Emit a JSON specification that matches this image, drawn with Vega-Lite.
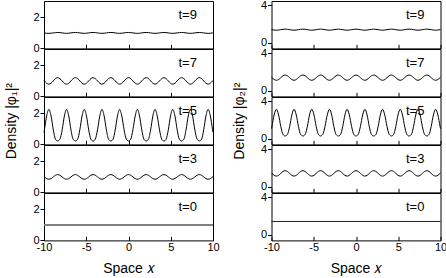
{
"$schema":"https://vega.github.io/schema/vega-lite/v6.json",
"padding":{"left":4,"top":-2,"right":0,"bottom":0},
"config":{
 "view":{"stroke":"#000","strokeWidth":1},
 "axis":{"labelFont":"Liberation Sans","labelFontSize":11,"labelColor":"#000","titleFont":"Liberation Sans","titleFontSize":14,"titleFontWeight":"normal","titleColor":"#000","tickColor":"#000","domain":false,"grid":false,"labelFlush":false},
 "text":{"font":"Liberation Sans"}
},
"datasets":{
"L":[
{"t":9,"lab":"t=9"},{"t":7,"lab":"t=7"},{"t":5,"lab":"t=5"},{"t":3,"lab":"t=3"},{"t":0,"lab":"t=0"},
{"t":0,"x":-10,"y":1},{"t":0,"x":10,"y":1},
{"t":9,"x":-10,"y":1.005},{"t":9,"x":-9.95,"y":1},{"t":9,"x":-9.42,"y":0.97},{"t":9,"x":-8.9,"y":1},{"t":9,"x":-8.38,"y":1.03},{"t":9,"x":-7.85,"y":1},{"t":9,"x":-7.33,"y":0.97},{"t":9,"x":-6.81,"y":1},{"t":9,"x":-6.28,"y":1.03},{"t":9,"x":-5.76,"y":1},{"t":9,"x":-5.24,"y":0.97},{"t":9,"x":-4.71,"y":1},{"t":9,"x":-4.19,"y":1.03},{"t":9,"x":-3.67,"y":1},{"t":9,"x":-3.14,"y":0.97},{"t":9,"x":-2.62,"y":1},{"t":9,"x":-2.09,"y":1.03},{"t":9,"x":-1.57,"y":1},{"t":9,"x":-1.05,"y":0.97},{"t":9,"x":-0.52,"y":1},{"t":9,"x":0,"y":1.03},{"t":9,"x":0.52,"y":1},{"t":9,"x":1.05,"y":0.97},{"t":9,"x":1.57,"y":1},{"t":9,"x":2.09,"y":1.03},{"t":9,"x":2.62,"y":1},{"t":9,"x":3.14,"y":0.97},{"t":9,"x":3.67,"y":1},{"t":9,"x":4.19,"y":1.03},{"t":9,"x":4.71,"y":1},{"t":9,"x":5.24,"y":0.97},{"t":9,"x":5.76,"y":1},{"t":9,"x":6.28,"y":1.03},{"t":9,"x":6.81,"y":1},{"t":9,"x":7.33,"y":0.97},{"t":9,"x":7.85,"y":1},{"t":9,"x":8.38,"y":1.03},{"t":9,"x":8.9,"y":1},{"t":9,"x":9.42,"y":0.97},{"t":9,"x":9.95,"y":1},{"t":9,"x":10,"y":1.005},
{"t":7,"x":-10,"y":1.032},
{"t":7,"x":-9.95,"y":1},{"t":7,"x":-9.69,"y":0.852},{"t":7,"x":-9.42,"y":0.79},{"t":7,"x":-9.16,"y":0.852},{"t":7,"x":-8.9,"y":1},{"t":7,"x":-8.64,"y":1.148},{"t":7,"x":-8.38,"y":1.21},{"t":7,"x":-8.12,"y":1.148},
{"t":7,"x":-7.85,"y":1},{"t":7,"x":-7.59,"y":0.852},{"t":7,"x":-7.33,"y":0.79},{"t":7,"x":-7.07,"y":0.852},{"t":7,"x":-6.81,"y":1},{"t":7,"x":-6.55,"y":1.148},{"t":7,"x":-6.28,"y":1.21},{"t":7,"x":-6.02,"y":1.148},
{"t":7,"x":-5.76,"y":1},{"t":7,"x":-5.5,"y":0.852},{"t":7,"x":-5.24,"y":0.79},{"t":7,"x":-4.97,"y":0.852},{"t":7,"x":-4.71,"y":1},{"t":7,"x":-4.45,"y":1.148},{"t":7,"x":-4.19,"y":1.21},{"t":7,"x":-3.93,"y":1.148},
{"t":7,"x":-3.67,"y":1},{"t":7,"x":-3.4,"y":0.852},{"t":7,"x":-3.14,"y":0.79},{"t":7,"x":-2.88,"y":0.852},{"t":7,"x":-2.62,"y":1},{"t":7,"x":-2.36,"y":1.148},{"t":7,"x":-2.09,"y":1.21},{"t":7,"x":-1.83,"y":1.148},
{"t":7,"x":-1.57,"y":1},{"t":7,"x":-1.31,"y":0.852},{"t":7,"x":-1.05,"y":0.79},{"t":7,"x":-0.79,"y":0.852},{"t":7,"x":-0.52,"y":1},{"t":7,"x":-0.26,"y":1.148},{"t":7,"x":0,"y":1.21},{"t":7,"x":0.26,"y":1.148},
{"t":7,"x":0.52,"y":1},{"t":7,"x":0.79,"y":0.852},{"t":7,"x":1.05,"y":0.79},{"t":7,"x":1.31,"y":0.852},{"t":7,"x":1.57,"y":1},{"t":7,"x":1.83,"y":1.148},{"t":7,"x":2.09,"y":1.21},{"t":7,"x":2.36,"y":1.148},
{"t":7,"x":2.62,"y":1},{"t":7,"x":2.88,"y":0.852},{"t":7,"x":3.14,"y":0.79},{"t":7,"x":3.4,"y":0.852},{"t":7,"x":3.67,"y":1},{"t":7,"x":3.93,"y":1.148},{"t":7,"x":4.19,"y":1.21},{"t":7,"x":4.45,"y":1.148},
{"t":7,"x":4.71,"y":1},{"t":7,"x":4.97,"y":0.852},{"t":7,"x":5.24,"y":0.79},{"t":7,"x":5.5,"y":0.852},{"t":7,"x":5.76,"y":1},{"t":7,"x":6.02,"y":1.148},{"t":7,"x":6.28,"y":1.21},{"t":7,"x":6.55,"y":1.148},
{"t":7,"x":6.81,"y":1},{"t":7,"x":7.07,"y":0.852},{"t":7,"x":7.33,"y":0.79},{"t":7,"x":7.59,"y":0.852},{"t":7,"x":7.85,"y":1},{"t":7,"x":8.12,"y":1.148},{"t":7,"x":8.38,"y":1.21},{"t":7,"x":8.64,"y":1.148},
{"t":7,"x":8.9,"y":1},{"t":7,"x":9.16,"y":0.852},{"t":7,"x":9.42,"y":0.79},{"t":7,"x":9.69,"y":0.852},{"t":7,"x":9.95,"y":1},{"t":7,"x":10,"y":1.032},
{"t":5,"x":-10,"y":0.78},
{"t":5,"x":-9.95,"y":0.941},{"t":5,"x":-9.69,"y":1.829},{"t":5,"x":-9.42,"y":2.26},{"t":5,"x":-9.16,"y":1.829},{"t":5,"x":-8.9,"y":0.941},{"t":5,"x":-8.64,"y":0.334},{"t":5,"x":-8.38,"y":0.22},{"t":5,"x":-8.12,"y":0.334},
{"t":5,"x":-7.85,"y":0.941},{"t":5,"x":-7.59,"y":1.829},{"t":5,"x":-7.33,"y":2.26},{"t":5,"x":-7.07,"y":1.829},{"t":5,"x":-6.81,"y":0.941},{"t":5,"x":-6.55,"y":0.334},{"t":5,"x":-6.28,"y":0.22},{"t":5,"x":-6.02,"y":0.334},
{"t":5,"x":-5.76,"y":0.941},{"t":5,"x":-5.5,"y":1.829},{"t":5,"x":-5.24,"y":2.26},{"t":5,"x":-4.97,"y":1.829},{"t":5,"x":-4.71,"y":0.941},{"t":5,"x":-4.45,"y":0.334},{"t":5,"x":-4.19,"y":0.22},{"t":5,"x":-3.93,"y":0.334},
{"t":5,"x":-3.67,"y":0.941},{"t":5,"x":-3.4,"y":1.829},{"t":5,"x":-3.14,"y":2.26},{"t":5,"x":-2.88,"y":1.829},{"t":5,"x":-2.62,"y":0.941},{"t":5,"x":-2.36,"y":0.334},{"t":5,"x":-2.09,"y":0.22},{"t":5,"x":-1.83,"y":0.334},
{"t":5,"x":-1.57,"y":0.941},{"t":5,"x":-1.31,"y":1.829},{"t":5,"x":-1.05,"y":2.26},{"t":5,"x":-0.79,"y":1.829},{"t":5,"x":-0.52,"y":0.941},{"t":5,"x":-0.26,"y":0.334},{"t":5,"x":0,"y":0.22},{"t":5,"x":0.26,"y":0.334},
{"t":5,"x":0.52,"y":0.941},{"t":5,"x":0.79,"y":1.829},{"t":5,"x":1.05,"y":2.26},{"t":5,"x":1.31,"y":1.829},{"t":5,"x":1.57,"y":0.941},{"t":5,"x":1.83,"y":0.334},{"t":5,"x":2.09,"y":0.22},{"t":5,"x":2.36,"y":0.334},
{"t":5,"x":2.62,"y":0.941},{"t":5,"x":2.88,"y":1.829},{"t":5,"x":3.14,"y":2.26},{"t":5,"x":3.4,"y":1.829},{"t":5,"x":3.67,"y":0.941},{"t":5,"x":3.93,"y":0.334},{"t":5,"x":4.19,"y":0.22},{"t":5,"x":4.45,"y":0.334},
{"t":5,"x":4.71,"y":0.941},{"t":5,"x":4.97,"y":1.829},{"t":5,"x":5.24,"y":2.26},{"t":5,"x":5.5,"y":1.829},{"t":5,"x":5.76,"y":0.941},{"t":5,"x":6.02,"y":0.334},{"t":5,"x":6.28,"y":0.22},{"t":5,"x":6.55,"y":0.334},
{"t":5,"x":6.81,"y":0.941},{"t":5,"x":7.07,"y":1.829},{"t":5,"x":7.33,"y":2.26},{"t":5,"x":7.59,"y":1.829},{"t":5,"x":7.85,"y":0.941},{"t":5,"x":8.12,"y":0.334},{"t":5,"x":8.38,"y":0.22},{"t":5,"x":8.64,"y":0.334},
{"t":5,"x":8.9,"y":0.941},{"t":5,"x":9.16,"y":1.829},{"t":5,"x":9.42,"y":2.26},{"t":5,"x":9.69,"y":1.829},{"t":5,"x":9.95,"y":0.941},{"t":5,"x":10,"y":0.78},
{"t":3,"x":-10,"y":1.023},
{"t":3,"x":-9.95,"y":1},{"t":3,"x":-9.69,"y":0.894},{"t":3,"x":-9.42,"y":0.85},{"t":3,"x":-9.16,"y":0.894},{"t":3,"x":-8.9,"y":1},{"t":3,"x":-8.64,"y":1.106},{"t":3,"x":-8.38,"y":1.15},{"t":3,"x":-8.12,"y":1.106},
{"t":3,"x":-7.85,"y":1},{"t":3,"x":-7.59,"y":0.894},{"t":3,"x":-7.33,"y":0.85},{"t":3,"x":-7.07,"y":0.894},{"t":3,"x":-6.81,"y":1},{"t":3,"x":-6.55,"y":1.106},{"t":3,"x":-6.28,"y":1.15},{"t":3,"x":-6.02,"y":1.106},
{"t":3,"x":-5.76,"y":1},{"t":3,"x":-5.5,"y":0.894},{"t":3,"x":-5.24,"y":0.85},{"t":3,"x":-4.97,"y":0.894},{"t":3,"x":-4.71,"y":1},{"t":3,"x":-4.45,"y":1.106},{"t":3,"x":-4.19,"y":1.15},{"t":3,"x":-3.93,"y":1.106},
{"t":3,"x":-3.67,"y":1},{"t":3,"x":-3.4,"y":0.894},{"t":3,"x":-3.14,"y":0.85},{"t":3,"x":-2.88,"y":0.894},{"t":3,"x":-2.62,"y":1},{"t":3,"x":-2.36,"y":1.106},{"t":3,"x":-2.09,"y":1.15},{"t":3,"x":-1.83,"y":1.106},
{"t":3,"x":-1.57,"y":1},{"t":3,"x":-1.31,"y":0.894},{"t":3,"x":-1.05,"y":0.85},{"t":3,"x":-0.79,"y":0.894},{"t":3,"x":-0.52,"y":1},{"t":3,"x":-0.26,"y":1.106},{"t":3,"x":0,"y":1.15},{"t":3,"x":0.26,"y":1.106},
{"t":3,"x":0.52,"y":1},{"t":3,"x":0.79,"y":0.894},{"t":3,"x":1.05,"y":0.85},{"t":3,"x":1.31,"y":0.894},{"t":3,"x":1.57,"y":1},{"t":3,"x":1.83,"y":1.106},{"t":3,"x":2.09,"y":1.15},{"t":3,"x":2.36,"y":1.106},
{"t":3,"x":2.62,"y":1},{"t":3,"x":2.88,"y":0.894},{"t":3,"x":3.14,"y":0.85},{"t":3,"x":3.4,"y":0.894},{"t":3,"x":3.67,"y":1},{"t":3,"x":3.93,"y":1.106},{"t":3,"x":4.19,"y":1.15},{"t":3,"x":4.45,"y":1.106},
{"t":3,"x":4.71,"y":1},{"t":3,"x":4.97,"y":0.894},{"t":3,"x":5.24,"y":0.85},{"t":3,"x":5.5,"y":0.894},{"t":3,"x":5.76,"y":1},{"t":3,"x":6.02,"y":1.106},{"t":3,"x":6.28,"y":1.15},{"t":3,"x":6.55,"y":1.106},
{"t":3,"x":6.81,"y":1},{"t":3,"x":7.07,"y":0.894},{"t":3,"x":7.33,"y":0.85},{"t":3,"x":7.59,"y":0.894},{"t":3,"x":7.85,"y":1},{"t":3,"x":8.12,"y":1.106},{"t":3,"x":8.38,"y":1.15},{"t":3,"x":8.64,"y":1.106},
{"t":3,"x":8.9,"y":1},{"t":3,"x":9.16,"y":0.894},{"t":3,"x":9.42,"y":0.85},{"t":3,"x":9.69,"y":0.894},{"t":3,"x":9.95,"y":1},{"t":3,"x":10,"y":1.023}
],
"R":[
{"t":9,"lab":"t=9"},{"t":7,"lab":"t=7"},{"t":5,"lab":"t=5"},{"t":3,"lab":"t=3"},{"t":0,"lab":"t=0"},
{"t":0,"x":-10,"y":1.42},{"t":0,"x":10,"y":1.42},
{"t":9,"x":-10,"y":1.409},{"t":9,"x":-9.95,"y":1.4},{"t":9,"x":-9.42,"y":1.34},{"t":9,"x":-8.9,"y":1.4},{"t":9,"x":-8.38,"y":1.46},{"t":9,"x":-7.85,"y":1.4},{"t":9,"x":-7.33,"y":1.34},{"t":9,"x":-6.81,"y":1.4},{"t":9,"x":-6.28,"y":1.46},{"t":9,"x":-5.76,"y":1.4},{"t":9,"x":-5.24,"y":1.34},{"t":9,"x":-4.71,"y":1.4},{"t":9,"x":-4.19,"y":1.46},{"t":9,"x":-3.67,"y":1.4},{"t":9,"x":-3.14,"y":1.34},{"t":9,"x":-2.62,"y":1.4},{"t":9,"x":-2.09,"y":1.46},{"t":9,"x":-1.57,"y":1.4},{"t":9,"x":-1.05,"y":1.34},{"t":9,"x":-0.52,"y":1.4},{"t":9,"x":0,"y":1.46},{"t":9,"x":0.52,"y":1.4},{"t":9,"x":1.05,"y":1.34},{"t":9,"x":1.57,"y":1.4},{"t":9,"x":2.09,"y":1.46},{"t":9,"x":2.62,"y":1.4},{"t":9,"x":3.14,"y":1.34},{"t":9,"x":3.67,"y":1.4},{"t":9,"x":4.19,"y":1.46},{"t":9,"x":4.71,"y":1.4},{"t":9,"x":5.24,"y":1.34},{"t":9,"x":5.76,"y":1.4},{"t":9,"x":6.28,"y":1.46},{"t":9,"x":6.81,"y":1.4},{"t":9,"x":7.33,"y":1.34},{"t":9,"x":7.85,"y":1.4},{"t":9,"x":8.38,"y":1.46},{"t":9,"x":8.9,"y":1.4},{"t":9,"x":9.42,"y":1.34},{"t":9,"x":9.95,"y":1.4},{"t":9,"x":10,"y":1.409},
{"t":7,"x":-10,"y":1.443},
{"t":7,"x":-9.95,"y":1.4},{"t":7,"x":-9.69,"y":1.202},{"t":7,"x":-9.42,"y":1.12},{"t":7,"x":-9.16,"y":1.202},{"t":7,"x":-8.9,"y":1.4},{"t":7,"x":-8.64,"y":1.598},{"t":7,"x":-8.38,"y":1.68},{"t":7,"x":-8.12,"y":1.598},
{"t":7,"x":-7.85,"y":1.4},{"t":7,"x":-7.59,"y":1.202},{"t":7,"x":-7.33,"y":1.12},{"t":7,"x":-7.07,"y":1.202},{"t":7,"x":-6.81,"y":1.4},{"t":7,"x":-6.55,"y":1.598},{"t":7,"x":-6.28,"y":1.68},{"t":7,"x":-6.02,"y":1.598},
{"t":7,"x":-5.76,"y":1.4},{"t":7,"x":-5.5,"y":1.202},{"t":7,"x":-5.24,"y":1.12},{"t":7,"x":-4.97,"y":1.202},{"t":7,"x":-4.71,"y":1.4},{"t":7,"x":-4.45,"y":1.598},{"t":7,"x":-4.19,"y":1.68},{"t":7,"x":-3.93,"y":1.598},
{"t":7,"x":-3.67,"y":1.4},{"t":7,"x":-3.4,"y":1.202},{"t":7,"x":-3.14,"y":1.12},{"t":7,"x":-2.88,"y":1.202},{"t":7,"x":-2.62,"y":1.4},{"t":7,"x":-2.36,"y":1.598},{"t":7,"x":-2.09,"y":1.68},{"t":7,"x":-1.83,"y":1.598},
{"t":7,"x":-1.57,"y":1.4},{"t":7,"x":-1.31,"y":1.202},{"t":7,"x":-1.05,"y":1.12},{"t":7,"x":-0.79,"y":1.202},{"t":7,"x":-0.52,"y":1.4},{"t":7,"x":-0.26,"y":1.598},{"t":7,"x":0,"y":1.68},{"t":7,"x":0.26,"y":1.598},
{"t":7,"x":0.52,"y":1.4},{"t":7,"x":0.79,"y":1.202},{"t":7,"x":1.05,"y":1.12},{"t":7,"x":1.31,"y":1.202},{"t":7,"x":1.57,"y":1.4},{"t":7,"x":1.83,"y":1.598},{"t":7,"x":2.09,"y":1.68},{"t":7,"x":2.36,"y":1.598},
{"t":7,"x":2.62,"y":1.4},{"t":7,"x":2.88,"y":1.202},{"t":7,"x":3.14,"y":1.12},{"t":7,"x":3.4,"y":1.202},{"t":7,"x":3.67,"y":1.4},{"t":7,"x":3.93,"y":1.598},{"t":7,"x":4.19,"y":1.68},{"t":7,"x":4.45,"y":1.598},
{"t":7,"x":4.71,"y":1.4},{"t":7,"x":4.97,"y":1.202},{"t":7,"x":5.24,"y":1.12},{"t":7,"x":5.5,"y":1.202},{"t":7,"x":5.76,"y":1.4},{"t":7,"x":6.02,"y":1.598},{"t":7,"x":6.28,"y":1.68},{"t":7,"x":6.55,"y":1.598},
{"t":7,"x":6.81,"y":1.4},{"t":7,"x":7.07,"y":1.202},{"t":7,"x":7.33,"y":1.12},{"t":7,"x":7.59,"y":1.202},{"t":7,"x":7.85,"y":1.4},{"t":7,"x":8.12,"y":1.598},{"t":7,"x":8.38,"y":1.68},{"t":7,"x":8.64,"y":1.598},
{"t":7,"x":8.9,"y":1.4},{"t":7,"x":9.16,"y":1.202},{"t":7,"x":9.42,"y":1.12},{"t":7,"x":9.69,"y":1.202},{"t":7,"x":9.95,"y":1.4},{"t":7,"x":10,"y":1.443},
{"t":5,"x":-10,"y":1.084},
{"t":5,"x":-9.95,"y":1.308},{"t":5,"x":-9.69,"y":2.548},{"t":5,"x":-9.42,"y":3.15},{"t":5,"x":-9.16,"y":2.548},{"t":5,"x":-8.9,"y":1.308},{"t":5,"x":-8.64,"y":0.46},{"t":5,"x":-8.38,"y":0.3},{"t":5,"x":-8.12,"y":0.46},
{"t":5,"x":-7.85,"y":1.308},{"t":5,"x":-7.59,"y":2.548},{"t":5,"x":-7.33,"y":3.15},{"t":5,"x":-7.07,"y":2.548},{"t":5,"x":-6.81,"y":1.308},{"t":5,"x":-6.55,"y":0.46},{"t":5,"x":-6.28,"y":0.3},{"t":5,"x":-6.02,"y":0.46},
{"t":5,"x":-5.76,"y":1.308},{"t":5,"x":-5.5,"y":2.548},{"t":5,"x":-5.24,"y":3.15},{"t":5,"x":-4.97,"y":2.548},{"t":5,"x":-4.71,"y":1.308},{"t":5,"x":-4.45,"y":0.46},{"t":5,"x":-4.19,"y":0.3},{"t":5,"x":-3.93,"y":0.46},
{"t":5,"x":-3.67,"y":1.308},{"t":5,"x":-3.4,"y":2.548},{"t":5,"x":-3.14,"y":3.15},{"t":5,"x":-2.88,"y":2.548},{"t":5,"x":-2.62,"y":1.308},{"t":5,"x":-2.36,"y":0.46},{"t":5,"x":-2.09,"y":0.3},{"t":5,"x":-1.83,"y":0.46},
{"t":5,"x":-1.57,"y":1.308},{"t":5,"x":-1.31,"y":2.548},{"t":5,"x":-1.05,"y":3.15},{"t":5,"x":-0.79,"y":2.548},{"t":5,"x":-0.52,"y":1.308},{"t":5,"x":-0.26,"y":0.46},{"t":5,"x":0,"y":0.3},{"t":5,"x":0.26,"y":0.46},
{"t":5,"x":0.52,"y":1.308},{"t":5,"x":0.79,"y":2.548},{"t":5,"x":1.05,"y":3.15},{"t":5,"x":1.31,"y":2.548},{"t":5,"x":1.57,"y":1.308},{"t":5,"x":1.83,"y":0.46},{"t":5,"x":2.09,"y":0.3},{"t":5,"x":2.36,"y":0.46},
{"t":5,"x":2.62,"y":1.308},{"t":5,"x":2.88,"y":2.548},{"t":5,"x":3.14,"y":3.15},{"t":5,"x":3.4,"y":2.548},{"t":5,"x":3.67,"y":1.308},{"t":5,"x":3.93,"y":0.46},{"t":5,"x":4.19,"y":0.3},{"t":5,"x":4.45,"y":0.46},
{"t":5,"x":4.71,"y":1.308},{"t":5,"x":4.97,"y":2.548},{"t":5,"x":5.24,"y":3.15},{"t":5,"x":5.5,"y":2.548},{"t":5,"x":5.76,"y":1.308},{"t":5,"x":6.02,"y":0.46},{"t":5,"x":6.28,"y":0.3},{"t":5,"x":6.55,"y":0.46},
{"t":5,"x":6.81,"y":1.308},{"t":5,"x":7.07,"y":2.548},{"t":5,"x":7.33,"y":3.15},{"t":5,"x":7.59,"y":2.548},{"t":5,"x":7.85,"y":1.308},{"t":5,"x":8.12,"y":0.46},{"t":5,"x":8.38,"y":0.3},{"t":5,"x":8.64,"y":0.46},
{"t":5,"x":8.9,"y":1.308},{"t":5,"x":9.16,"y":2.548},{"t":5,"x":9.42,"y":3.15},{"t":5,"x":9.69,"y":2.548},{"t":5,"x":9.95,"y":1.308},{"t":5,"x":10,"y":1.084},
{"t":3,"x":-10,"y":1.475},
{"t":3,"x":-9.95,"y":1.43},{"t":3,"x":-9.69,"y":1.225},{"t":3,"x":-9.42,"y":1.14},{"t":3,"x":-9.16,"y":1.225},{"t":3,"x":-8.9,"y":1.43},{"t":3,"x":-8.64,"y":1.635},{"t":3,"x":-8.38,"y":1.72},{"t":3,"x":-8.12,"y":1.635},
{"t":3,"x":-7.85,"y":1.43},{"t":3,"x":-7.59,"y":1.225},{"t":3,"x":-7.33,"y":1.14},{"t":3,"x":-7.07,"y":1.225},{"t":3,"x":-6.81,"y":1.43},{"t":3,"x":-6.55,"y":1.635},{"t":3,"x":-6.28,"y":1.72},{"t":3,"x":-6.02,"y":1.635},
{"t":3,"x":-5.76,"y":1.43},{"t":3,"x":-5.5,"y":1.225},{"t":3,"x":-5.24,"y":1.14},{"t":3,"x":-4.97,"y":1.225},{"t":3,"x":-4.71,"y":1.43},{"t":3,"x":-4.45,"y":1.635},{"t":3,"x":-4.19,"y":1.72},{"t":3,"x":-3.93,"y":1.635},
{"t":3,"x":-3.67,"y":1.43},{"t":3,"x":-3.4,"y":1.225},{"t":3,"x":-3.14,"y":1.14},{"t":3,"x":-2.88,"y":1.225},{"t":3,"x":-2.62,"y":1.43},{"t":3,"x":-2.36,"y":1.635},{"t":3,"x":-2.09,"y":1.72},{"t":3,"x":-1.83,"y":1.635},
{"t":3,"x":-1.57,"y":1.43},{"t":3,"x":-1.31,"y":1.225},{"t":3,"x":-1.05,"y":1.14},{"t":3,"x":-0.79,"y":1.225},{"t":3,"x":-0.52,"y":1.43},{"t":3,"x":-0.26,"y":1.635},{"t":3,"x":0,"y":1.72},{"t":3,"x":0.26,"y":1.635},
{"t":3,"x":0.52,"y":1.43},{"t":3,"x":0.79,"y":1.225},{"t":3,"x":1.05,"y":1.14},{"t":3,"x":1.31,"y":1.225},{"t":3,"x":1.57,"y":1.43},{"t":3,"x":1.83,"y":1.635},{"t":3,"x":2.09,"y":1.72},{"t":3,"x":2.36,"y":1.635},
{"t":3,"x":2.62,"y":1.43},{"t":3,"x":2.88,"y":1.225},{"t":3,"x":3.14,"y":1.14},{"t":3,"x":3.4,"y":1.225},{"t":3,"x":3.67,"y":1.43},{"t":3,"x":3.93,"y":1.635},{"t":3,"x":4.19,"y":1.72},{"t":3,"x":4.45,"y":1.635},
{"t":3,"x":4.71,"y":1.43},{"t":3,"x":4.97,"y":1.225},{"t":3,"x":5.24,"y":1.14},{"t":3,"x":5.5,"y":1.225},{"t":3,"x":5.76,"y":1.43},{"t":3,"x":6.02,"y":1.635},{"t":3,"x":6.28,"y":1.72},{"t":3,"x":6.55,"y":1.635},
{"t":3,"x":6.81,"y":1.43},{"t":3,"x":7.07,"y":1.225},{"t":3,"x":7.33,"y":1.14},{"t":3,"x":7.59,"y":1.225},{"t":3,"x":7.85,"y":1.43},{"t":3,"x":8.12,"y":1.635},{"t":3,"x":8.38,"y":1.72},{"t":3,"x":8.64,"y":1.635},
{"t":3,"x":8.9,"y":1.43},{"t":3,"x":9.16,"y":1.225},{"t":3,"x":9.42,"y":1.14},{"t":3,"x":9.69,"y":1.225},{"t":3,"x":9.95,"y":1.43},{"t":3,"x":10,"y":1.475}
]
},
"hconcat":[
{"spacing":0,"bounds":"flush","vconcat":[
 {"width":169,"height":47.4,"data":{"name":"L"},"transform":[{"filter":"datum.t==9"}],"layer":[
  {"transform":[{"filter":"isValid(datum.y)"}],"mark":{"type":"line","interpolate":"monotone","color":"#000","strokeWidth":1},
   "encoding":{"x":{"field":"x","type":"quantitative","scale":{"domain":[-10,10],"nice":false,"zero":false},"axis":{"values":[-10,-7.5,-5,-2.5,0,2.5,5,7.5,10],"tickSize":-4,"labels":false,"title":null}},
    "y":{"field":"y","type":"quantitative","scale":{"domain":[0,3.06],"nice":false,"zero":false},"axis":{"values":[0,2],"tickSize":4,"labelPadding":1,"title":null}}}},
  {"transform":[{"filter":"isValid(datum.lab)"}],"mark":{"type":"text","fontSize":13,"color":"#000","baseline":"middle","align":"center"},
   "encoding":{"x":{"datum":7},"y":{"datum":2.16},"text":{"field":"lab","type":"nominal"}}}]},
 {"width":169,"height":47.4,"data":{"name":"L"},"transform":[{"filter":"datum.t==7"}],"layer":[
  {"transform":[{"filter":"isValid(datum.y)"}],"mark":{"type":"line","interpolate":"monotone","color":"#000","strokeWidth":1},
   "encoding":{"x":{"field":"x","type":"quantitative","scale":{"domain":[-10,10],"nice":false,"zero":false},"axis":{"values":[-10,-7.5,-5,-2.5,0,2.5,5,7.5,10],"tickSize":-4,"labels":false,"title":null}},
    "y":{"field":"y","type":"quantitative","scale":{"domain":[0,3.06],"nice":false,"zero":false},"axis":{"values":[0,2],"tickSize":4,"labelPadding":1,"title":null}}}},
  {"transform":[{"filter":"isValid(datum.lab)"}],"mark":{"type":"text","fontSize":13,"color":"#000","baseline":"middle","align":"center"},
   "encoding":{"x":{"datum":7},"y":{"datum":2.16},"text":{"field":"lab","type":"nominal"}}}]},
 {"width":169,"height":47.4,"data":{"name":"L"},"transform":[{"filter":"datum.t==5"}],"layer":[
  {"transform":[{"filter":"isValid(datum.y)"}],"mark":{"type":"line","interpolate":"monotone","color":"#000","strokeWidth":1},
   "encoding":{"x":{"field":"x","type":"quantitative","scale":{"domain":[-10,10],"nice":false,"zero":false},"axis":{"values":[-10,-7.5,-5,-2.5,0,2.5,5,7.5,10],"tickSize":-4,"labels":false,"title":null}},
    "y":{"field":"y","type":"quantitative","scale":{"domain":[0,3.06],"nice":false,"zero":false},"axis":{"values":[0,2],"tickSize":4,"labelPadding":1,"title":"Density |φ₁|²","titlePadding":14}}}},
  {"transform":[{"filter":"isValid(datum.lab)"}],"mark":{"type":"text","fontSize":13,"color":"#000","baseline":"middle","align":"center"},
   "encoding":{"x":{"datum":7},"y":{"datum":2.16},"text":{"field":"lab","type":"nominal"}}}]},
 {"width":169,"height":47.4,"data":{"name":"L"},"transform":[{"filter":"datum.t==3"}],"layer":[
  {"transform":[{"filter":"isValid(datum.y)"}],"mark":{"type":"line","interpolate":"monotone","color":"#000","strokeWidth":1},
   "encoding":{"x":{"field":"x","type":"quantitative","scale":{"domain":[-10,10],"nice":false,"zero":false},"axis":{"values":[-10,-7.5,-5,-2.5,0,2.5,5,7.5,10],"tickSize":-4,"labels":false,"title":null}},
    "y":{"field":"y","type":"quantitative","scale":{"domain":[0,3.06],"nice":false,"zero":false},"axis":{"values":[0,2],"tickSize":4,"labelPadding":1,"title":null}}}},
  {"transform":[{"filter":"isValid(datum.lab)"}],"mark":{"type":"text","fontSize":13,"color":"#000","baseline":"middle","align":"center"},
   "encoding":{"x":{"datum":7},"y":{"datum":2.16},"text":{"field":"lab","type":"nominal"}}}]},
 {"width":169,"height":47.4,"data":{"name":"L"},"transform":[{"filter":"datum.t==0"}],"layer":[
  {"transform":[{"filter":"isValid(datum.y)"}],"mark":{"type":"line","color":"#808080","strokeWidth":2},
   "encoding":{"x":{"field":"x","type":"quantitative","scale":{"domain":[-10,10],"nice":false,"zero":false},"axis":{"values":[-10,-7.5,-5,-2.5,0,2.5,5,7.5,10],"tickSize":-4,"labelPadding":5,"labelExpr":"datum.value % 5 === 0 ? (datum.value < 0 ? '-' : '') + abs(datum.value) : ''","title":"Space 𝑥","titlePadding":9}},
    "y":{"field":"y","type":"quantitative","scale":{"domain":[0,3.06],"nice":false,"zero":false},"axis":{"values":[0,2],"tickSize":4,"labelPadding":1,"title":null}}}},
  {"transform":[{"filter":"isValid(datum.lab)"}],"mark":{"type":"text","fontSize":13,"color":"#000","baseline":"middle","align":"center"},
   "encoding":{"x":{"datum":7},"y":{"datum":2.16},"text":{"field":"lab","type":"nominal"}}}]}
]},
{"spacing":0,"bounds":"flush","vconcat":[
 {"width":169,"height":47.4,"data":{"name":"R"},"transform":[{"filter":"datum.t==9"}],"layer":[
  {"transform":[{"filter":"isValid(datum.y)"}],"mark":{"type":"line","interpolate":"monotone","color":"#000","strokeWidth":1},
   "encoding":{"x":{"field":"x","type":"quantitative","scale":{"domain":[-10,10],"nice":false,"zero":false},"axis":{"values":[-10,-7.5,-5,-2.5,0,2.5,5,7.5,10],"tickSize":-4,"labels":false,"title":null}},
    "y":{"field":"y","type":"quantitative","scale":{"domain":[-0.6,4.46],"nice":false,"zero":false},"axis":{"values":[0,2,4],"tickSize":4,"labelPadding":1,"title":null}}}},
  {"transform":[{"filter":"isValid(datum.lab)"}],"mark":{"type":"text","fontSize":13,"color":"#000","baseline":"middle","align":"center"},
   "encoding":{"x":{"datum":7},"y":{"datum":2.96},"text":{"field":"lab","type":"nominal"}}}]},
 {"width":169,"height":47.4,"data":{"name":"R"},"transform":[{"filter":"datum.t==7"}],"layer":[
  {"transform":[{"filter":"isValid(datum.y)"}],"mark":{"type":"line","interpolate":"monotone","color":"#000","strokeWidth":1},
   "encoding":{"x":{"field":"x","type":"quantitative","scale":{"domain":[-10,10],"nice":false,"zero":false},"axis":{"values":[-10,-7.5,-5,-2.5,0,2.5,5,7.5,10],"tickSize":-4,"labels":false,"title":null}},
    "y":{"field":"y","type":"quantitative","scale":{"domain":[-0.6,4.46],"nice":false,"zero":false},"axis":{"values":[0,2,4],"tickSize":4,"labelPadding":1,"title":null}}}},
  {"transform":[{"filter":"isValid(datum.lab)"}],"mark":{"type":"text","fontSize":13,"color":"#000","baseline":"middle","align":"center"},
   "encoding":{"x":{"datum":7},"y":{"datum":2.96},"text":{"field":"lab","type":"nominal"}}}]},
 {"width":169,"height":47.4,"data":{"name":"R"},"transform":[{"filter":"datum.t==5"}],"layer":[
  {"transform":[{"filter":"isValid(datum.y)"}],"mark":{"type":"line","interpolate":"monotone","color":"#000","strokeWidth":1},
   "encoding":{"x":{"field":"x","type":"quantitative","scale":{"domain":[-10,10],"nice":false,"zero":false},"axis":{"values":[-10,-7.5,-5,-2.5,0,2.5,5,7.5,10],"tickSize":-4,"labels":false,"title":null}},
    "y":{"field":"y","type":"quantitative","scale":{"domain":[-0.6,4.46],"nice":false,"zero":false},"axis":{"values":[0,2,4],"tickSize":4,"labelPadding":1,"title":"Density |φ₂|²","titlePadding":14}}}},
  {"transform":[{"filter":"isValid(datum.lab)"}],"mark":{"type":"text","fontSize":13,"color":"#000","baseline":"middle","align":"center"},
   "encoding":{"x":{"datum":7},"y":{"datum":2.96},"text":{"field":"lab","type":"nominal"}}}]},
 {"width":169,"height":47.4,"data":{"name":"R"},"transform":[{"filter":"datum.t==3"}],"layer":[
  {"transform":[{"filter":"isValid(datum.y)"}],"mark":{"type":"line","interpolate":"monotone","color":"#000","strokeWidth":1},
   "encoding":{"x":{"field":"x","type":"quantitative","scale":{"domain":[-10,10],"nice":false,"zero":false},"axis":{"values":[-10,-7.5,-5,-2.5,0,2.5,5,7.5,10],"tickSize":-4,"labels":false,"title":null}},
    "y":{"field":"y","type":"quantitative","scale":{"domain":[-0.6,4.46],"nice":false,"zero":false},"axis":{"values":[0,2,4],"tickSize":4,"labelPadding":1,"title":null}}}},
  {"transform":[{"filter":"isValid(datum.lab)"}],"mark":{"type":"text","fontSize":13,"color":"#000","baseline":"middle","align":"center"},
   "encoding":{"x":{"datum":7},"y":{"datum":2.96},"text":{"field":"lab","type":"nominal"}}}]},
 {"width":169,"height":47.4,"data":{"name":"R"},"transform":[{"filter":"datum.t==0"}],"layer":[
  {"transform":[{"filter":"isValid(datum.y)"}],"mark":{"type":"line","color":"#222","strokeWidth":1},
   "encoding":{"x":{"field":"x","type":"quantitative","scale":{"domain":[-10,10],"nice":false,"zero":false},"axis":{"values":[-10,-7.5,-5,-2.5,0,2.5,5,7.5,10],"tickSize":-4,"labelPadding":5,"labelExpr":"datum.value % 5 === 0 ? (datum.value < 0 ? '-' : '') + abs(datum.value) : ''","title":"Space 𝑥","titlePadding":9}},
    "y":{"field":"y","type":"quantitative","scale":{"domain":[-0.6,4.46],"nice":false,"zero":false},"axis":{"values":[0,2,4],"tickSize":4,"labelPadding":1,"title":null}}}},
  {"transform":[{"filter":"isValid(datum.lab)"}],"mark":{"type":"text","fontSize":13,"color":"#000","baseline":"middle","align":"center"},
   "encoding":{"x":{"datum":7},"y":{"datum":2.96},"text":{"field":"lab","type":"nominal"}}}]}
]}
],
"spacing":11.5
}
